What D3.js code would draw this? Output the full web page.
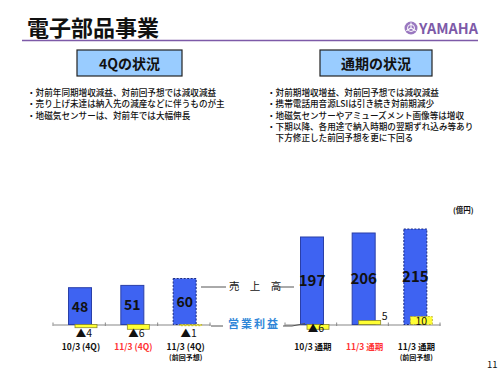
<!DOCTYPE html>
<html>
<head>
<meta charset="utf-8">
<script src="https://cdn.jsdelivr.net/npm/d3@7"></script>
<style>
  body { margin: 0; background: #fff; }
  svg { display: block; }
  text { font-family: "Noto Sans CJK JP", "Liberation Sans", sans-serif; }
</style>
</head>
<body>
<svg id="chart" width="500" height="375"></svg>
<script>
// 4Q panel
const quarterLabels = ["10/3 (4Q)", "11/3 (4Q)", "11/3 (4Q)"];
const quarterSales = [48, 51, 60];
const quarterProfit = [-4, -6, -1];
// full-year panel
const yearLabels = ["10/3 通期", "11/3 通期", "11/3 通期"];
const yearSales = [197, 206, 215];
const yearProfit = [-6, 5, 10];
// shared flags
const subLabels = ["", "", "(前回予想)"];
const isForecast = [false, false, true];
const isCurrent = [false, true, false];

const leftNotes = [
  "・対前年同期増収減益、対前回予想では減収減益",
  "・売り上げ未達は納入先の減産などに伴うものが主",
  "・地磁気センサーは、対前年では大幅伸長"
];
const rightNotes = [
  "・対前期増収増益、対前回予想では減収減益",
  "・携帯電話用音源LSIは引き続き対前期減少",
  "・地磁気センサーやアミューズメント画像等は増収",
  "・下期以降、各用途で納入時期の翌期ずれ込み等あり",
  "　下方修正した前回予想を更に下回る"
];

const svg = d3.select("#chart");
const purple = "#7d5aa8";
const base = 324.5;

// header
svg.append("text").attr("x", 27).attr("y", 35.5)
  .attr("font-size", "22px").attr("font-weight", "bold").attr("fill", "#111")
  .text("電子部品事業");
svg.append("line").attr("x1", 22).attr("x2", 478).attr("y1", 40.5).attr("y2", 40.5)
  .attr("stroke", purple).attr("stroke-width", 1.5);

// logo
const logo = svg.append("g").attr("transform", "translate(411,28)");
logo.append("circle").attr("r", 6.5).attr("fill", "#9a78c0");
logo.append("circle").attr("r", 3.5).attr("fill", "none").attr("stroke", "#fff").attr("stroke-width", 1);
d3.range(3).forEach(i => {
  logo.append("line").attr("x1", 0).attr("y1", 0).attr("x2", 0).attr("y2", -5.5)
    .attr("stroke", "#fff").attr("stroke-width", 1)
    .attr("transform", `rotate(${i * 120})`);
});
svg.append("text").attr("x", 419).attr("y", 34).attr("font-size", "14.5px")
  .attr("font-weight", "bold").attr("fill", purple)
  .attr("font-family", "Liberation Sans Narrow, Liberation Sans, sans-serif")
  .attr("textLength", 59).attr("lengthAdjust", "spacingAndGlyphs")
  .text("YAMAHA");

// headline boxes
function headBox(x, w, label) {
  svg.append("rect").attr("x", x).attr("y", 50).attr("width", w).attr("height", 26)
    .attr("fill", "#99ccff").attr("stroke", "#222").attr("stroke-width", 1.2);
  svg.append("text").attr("x", x + w / 2).attr("y", 68.5).attr("text-anchor", "middle")
    .attr("font-size", "14px").attr("font-weight", "bold").attr("fill", "#111")
    .text(label);
}
headBox(77, 105, "4Qの状況");
headBox(320, 112, "通期の状況");

function notes(x, lines) {
  lines.forEach((t, i) => {
    svg.append("text").attr("x", x).attr("y", 96 + i * 11.3)
      .attr("font-size", "8.6px").attr("font-weight", 500).attr("fill", "#111")
      .text(t);
  });
}
notes(27, leftNotes);
notes(267, rightNotes);

svg.append("text").attr("x", 453).attr("y", 213).attr("font-size", "7.5px")
  .attr("font-weight", "bold").attr("fill", "#111").text("(億円)");

const salesFmt = d3.format("d");
const profitFmt = v => v < 0 ? "▲" + Math.abs(v) : String(v);

function panel(x0, x1, labels, sales, profit, salesMax, salesPx, isLeft) {
  const x = d3.scaleBand().domain(d3.range(labels.length)).range([x0, x1]);
  const ys = d3.scaleLinear().domain([0, salesMax]).range([base, base - salesPx]);
  const yp = d3.scaleLinear().domain([0, 10]).range([base, base - 8]);
  const g = svg.append("g");

  // axis
  const axis = d3.axisBottom(x).tickSize(0).tickFormat("");
  g.append("g").attr("transform", `translate(0,${base})`).call(axis)
    .call(a => a.select(".domain").attr("stroke", "#888").attr("stroke-width", 1.2));
  g.selectAll(".tk").data(d3.range(labels.length + 1)).enter().append("line")
    .attr("x1", i => x0 + i * x.bandwidth()).attr("x2", i => x0 + i * x.bandwidth())
    .attr("y1", base - 2).attr("y2", base + 1.5).attr("stroke", "#888");

  // sales bars
  g.selectAll(".sales").data(sales).enter().append("rect")
    .attr("x", (d, i) => x(i) + 15.5).attr("width", 23)
    .attr("y", d => ys(d)).attr("height", d => base - ys(d))
    .attr("fill", "#3e63f2")
    .attr("stroke", (d, i) => isForecast[i] ? "#1a2a80" : "#2a3fa8")
    .attr("stroke-width", 1)
    .attr("stroke-dasharray", (d, i) => isForecast[i] ? "2,1.5" : null);
  g.selectAll(".salesLbl").data(sales).enter().append("text")
    .attr("x", (d, i) => x(i) + 27).attr("y", d => (ys(d) + base) / 2 + 5.5)
    .attr("text-anchor", "middle").attr("font-size", isLeft ? "14px" : "15px")
    .attr("font-weight", "bold").attr("fill", "#111")
    .attr("font-family", "Liberation Sans, sans-serif")
    .text(d => salesFmt(d));

  // operating profit bars
  g.selectAll(".profit").data(profit).enter().append("rect")
    .attr("x", (d, i) => x(i) + 22).attr("width", 22)
    .attr("y", d => Math.min(yp(d), base)).attr("height", d => Math.max(Math.abs(yp(d) - base), 1.2))
    .attr("fill", "#ffff33")
    .attr("stroke", (d, i) => isForecast[i] ? "#b0a020" : "#8c8a2a")
    .attr("stroke-width", 0.8)
    .attr("stroke-dasharray", (d, i) => isForecast[i] ? "2,1.5" : null);

  g.selectAll(".profitLbl").data(profit).enter().append("text")
    .attr("x", (d, i) => {
      if (isLeft) return x(i) + 31;
      if (d < 0) return x(i) + 31;
      if (d < 8) return x(i) + 48;
      return x(i) + 33;
    })
    .attr("y", d => {
      if (isLeft) return base + 12.5;
      if (d < 0) return base + 7.5;
      if (d < 8) return yp(d) - 1;
      return base + 0.5;
    })
    .attr("text-anchor", "middle").attr("font-size", "10.5px")
    .attr("fill", "#111").attr("font-family", "Liberation Sans, sans-serif")
    .text(d => profitFmt(d));

  // category labels
  g.selectAll(".cat").data(labels).enter().append("text")
    .attr("x", (d, i) => x(i) + 28).attr("y", 349.5)
    .attr("text-anchor", "middle").attr("font-size", "8.5px")
    .attr("font-weight", "bold")
    .attr("fill", (d, i) => isCurrent[i] ? "#ff3333" : "#111")
    .text(d => d);
  g.selectAll(".sub").data(subLabels).enter().append("text")
    .attr("x", (d, i) => x(i) + 28).attr("y", 359.5)
    .attr("text-anchor", "middle").attr("font-size", "7px")
    .attr("font-weight", "bold").attr("fill", "#111")
    .text(d => d);
}

panel(53, 210, quarterLabels, quarterSales, quarterProfit, 60, 46, true);
panel(285, 440, yearLabels, yearSales, yearProfit, 215, 95.5, false);

// middle legend
svg.append("text").attr("x", 229).attr("y", 290)
  .attr("font-size", "10.5px").attr("fill", "#111").attr("letter-spacing", "4px")
  .text("売 上 高");
svg.append("line").attr("x1", 201).attr("x2", 226).attr("y1", 287).attr("y2", 287).attr("stroke", "#555");
svg.append("line").attr("x1", 274).attr("x2", 294).attr("y1", 287).attr("y2", 287).attr("stroke", "#555");
svg.append("text").attr("x", 228).attr("y", 328)
  .attr("font-size", "11px").attr("font-weight", "bold").attr("fill", "#2f86d8")
  .attr("letter-spacing", "2px").text("営業利益");
svg.append("line").attr("x1", 211).attr("x2", 223).attr("y1", 326).attr("y2", 326).attr("stroke", "#555");
svg.append("polyline").attr("points", "283,326 292,326 305,323.5")
  .attr("fill", "none").attr("stroke", "#555");

svg.append("text").attr("x", 487).attr("y", 368).attr("font-size", "9.5px")
  .attr("font-family", "Liberation Sans, sans-serif").attr("fill", "#111").text("11");
</script>
</body>
</html>
